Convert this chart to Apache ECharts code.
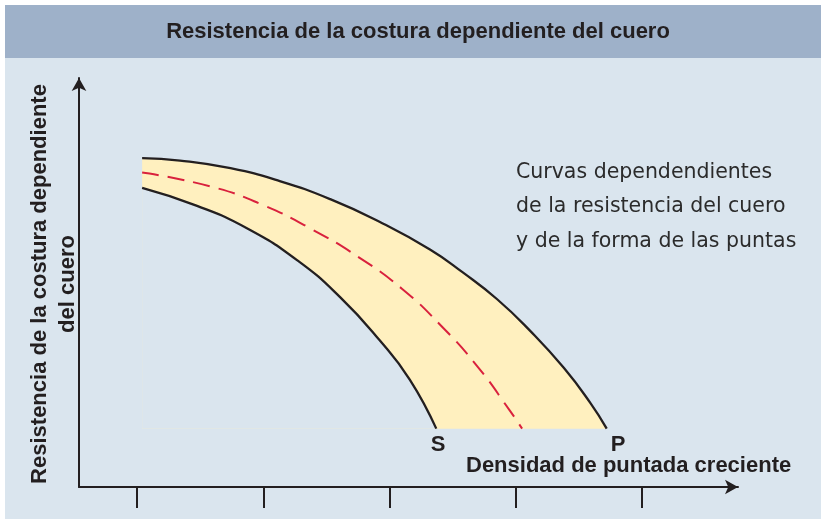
<!DOCTYPE html>
<html>
<head>
<meta charset="utf-8">
<title>Resistencia de la costura dependiente del cuero</title>
<script src="https://cdn.jsdelivr.net/npm/echarts@6/dist/echarts.min.js"></script>
<style>
  html, body { margin: 0; padding: 0; background: #fff; }
  #chart { width: 821px; height: 519px; }
</style>
</head>
<body>
<div id="chart"></div>
<script>
(function() {
  'use strict';

  var ink = '#231f20';
  var panel = '#dae5ee';
  var header = '#9eb1c9';
  var band = '#fff0bf';
  var red = '#d9213d';
  var boldFont = 'bold 22px "Liberation Sans", Arial, sans-serif';

  // ========== Data ==========
  var tickValues = [1, 2, 3, 4, 5];
  var baseLevel = 1.45;
  var upperEdge = [[1.04, 8.17], [1.34, 8.11], [1.74, 7.92], [2.13, 7.60], [2.53, 7.15], [2.92, 6.59],
    [3.32, 5.90], [3.58, 5.33], [3.85, 4.67], [4.11, 3.89], [4.38, 2.96], [4.59, 2.09], [4.72, 1.45]];
  var midLine = [[1.04, 7.81], [1.59, 7.46], [2.00, 7.00], [2.38, 6.41], [2.75, 5.72], [3.10, 4.92],
    [3.41, 4.00], [3.70, 2.98], [3.95, 1.91], [4.05, 1.45]];
  var lowerEdge = [[1.04, 7.43], [1.47, 6.99], [1.87, 6.43], [2.27, 5.63], [2.61, 4.71], [2.92, 3.65],
    [3.16, 2.67], [3.37, 1.45]];
  var noteLines = ['Curvas dependendientes', 'de la resistencia del cuero', 'y de la forma de las puntas'];

  var chart = echarts.init(document.getElementById('chart'), null, { renderer: 'canvas' });

  function curve(data, color, dashed) {
    return {
      type: 'line',
      data: data,
      smooth: 0.5,
      symbol: 'none',
      z: 3,
      silent: true,
      lineStyle: { color: color, width: dashed ? 2 : 2.3, type: dashed ? [17, 9] : 'solid' }
    };
  }

  // fill down to the S-P base line; the lower one repaints the panel colour
  function area(data, color) {
    return {
      type: 'line',
      data: data,
      smooth: 0.5,
      symbol: 'none',
      z: 1,
      silent: true,
      lineStyle: { width: 0, opacity: 0 },
      areaStyle: { color: color, opacity: 1, origin: baseLevel }
    };
  }

  chart.setOption({
    animation: false,
    backgroundColor: panel,
    grid: { left: 79, right: 83, top: 78, bottom: 32 },
    xAxis: {
      type: 'value',
      min: 0.54,
      max: 5.76,
      axisLine: {
        show: true,
        symbol: ['none', 'arrow'],
        symbolSize: [11, 13],
        lineStyle: { color: ink, width: 2 }
      },
      axisTick: {
        show: true,
        customValues: tickValues,
        length: 21,
        lineStyle: { color: ink, width: 2 }
      },
      axisLabel: { show: false },
      splitLine: { show: false }
    },
    yAxis: {
      type: 'value',
      min: 0,
      max: 10.16,
      axisLine: {
        show: true,
        symbol: ['none', 'arrow'],
        symbolSize: [11, 13],
        lineStyle: { color: ink, width: 2 }
      },
      axisTick: { show: false },
      axisLabel: { show: false },
      splitLine: { show: false }
    },
    series: [
      area(upperEdge, band),
      area(lowerEdge, panel),
      curve(upperEdge, ink, false),
      curve(lowerEdge, ink, false),
      curve(midLine, red, true)
    ],
    graphic: [
      { type: 'rect', shape: { x: 0, y: 0, width: 821, height: 5 }, style: { fill: '#fff' } },
      { type: 'rect', shape: { x: 0, y: 0, width: 5, height: 519 }, style: { fill: '#fff' } },
      { type: 'rect', shape: { x: 5, y: 5, width: 816, height: 53 }, style: { fill: header } },
      {
        type: 'text', x: 418, y: 32,
        style: { text: 'Resistencia de la costura dependiente del cuero', font: boldFont, fill: ink, align: 'center', verticalAlign: 'middle' }
      },
      {
        type: 'text', x: 54, y: 284, rotation: Math.PI / 2,
        style: { text: 'Resistencia de la costura dependiente\ndel cuero', font: boldFont, fill: ink, align: 'center', verticalAlign: 'middle', lineHeight: 28 }
      },
      {
        type: 'text', x: 466, y: 466,
        style: { text: 'Densidad de puntada creciente', font: boldFont, fill: ink, align: 'left', verticalAlign: 'middle' }
      },
      {
        type: 'text', x: 438, y: 445,
        style: { text: 'S', font: boldFont, fill: ink, align: 'center', verticalAlign: 'middle' }
      },
      {
        type: 'text', x: 618, y: 445,
        style: { text: 'P', font: boldFont, fill: ink, align: 'center', verticalAlign: 'middle' }
      },
      {
        type: 'text', x: 516, y: 207,
        style: { text: noteLines.join('\n'), font: '20.5px "DejaVu Sans", sans-serif', fill: '#2b2b2b', align: 'left', verticalAlign: 'middle', lineHeight: 34.5 }
      }
    ]
  });
  window.addEventListener('resize', function() { chart.resize(); });
})();
</script>
</body>
</html>
